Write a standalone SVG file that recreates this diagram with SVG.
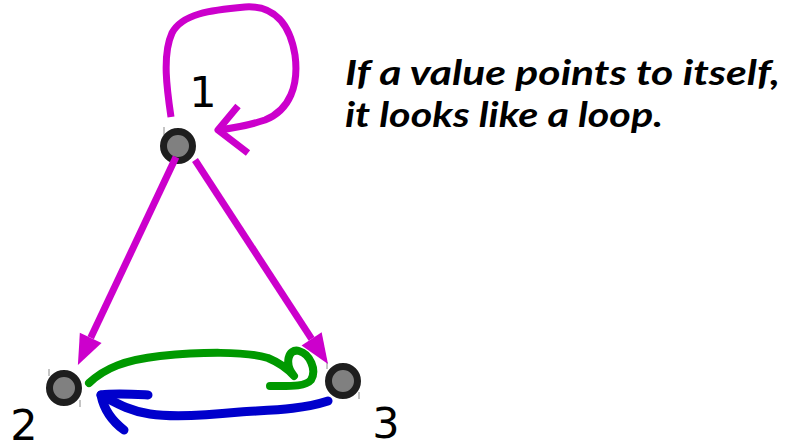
<svg xmlns="http://www.w3.org/2000/svg" width="785" height="446" viewBox="0 0 785 446">
  <style>
    .node circle { fill: #808080; stroke: #1e1e1e; stroke-width: 7; }
    .tick { stroke: #8a8a8a; stroke-width: 1; }
    .num { font-family: "DejaVu Sans", "Liberation Sans", sans-serif; font-size: 43px; fill: #000; text-anchor: middle; }
    .note { font-family: Lato, "Open Sans", sans-serif; font-size: 34px; font-weight: bold; font-style: italic; fill: #000; }
    .mag { fill: none; stroke: #cc00cc; stroke-width: 7; stroke-linejoin: round; }
    .green { fill: none; stroke: #009900; stroke-width: 8; stroke-linecap: round; stroke-linejoin: round; }
    .blue { fill: none; stroke: #0000cc; stroke-width: 9; stroke-linecap: round; stroke-linejoin: round; }
  </style>
  <defs>
    <marker id="arrow" markerUnits="userSpaceOnUse" markerWidth="30" markerHeight="24" refX="0" refY="12" orient="auto" overflow="visible">
      <path d="M0,0 L30,12 L0,24 Z" fill="#cc00cc"/>
    </marker>
  </defs>
  <rect width="785" height="446" fill="#ffffff"/>

  <g id="node1" class="node">
    <line class="tick" x1="164" y1="127" x2="164" y2="135"/>
    <circle cx="178" cy="146" r="14.5"/>
    <text class="num" x="203" y="107">1</text>
  </g>
  <g id="node2" class="node">
    <line class="tick" x1="49" y1="369" x2="49" y2="376"/>
    <line class="tick" x1="80" y1="400" x2="80" y2="407"/>
    <circle cx="64" cy="388" r="14.5"/>
    <text class="num" x="24" y="440">2</text>
  </g>
  <g id="node3" class="node">
    <line class="tick" x1="327" y1="362" x2="327" y2="369"/>
    <line class="tick" x1="359" y1="392" x2="359" y2="399"/>
    <circle cx="343" cy="381" r="14.5"/>
    <text class="num" x="386" y="438">3</text>
  </g>

  <g id="connectors">
    <path class="mag" d="M176,157 L90.7,337.8" marker-end="url(#arrow)"/>
    <path class="mag" d="M195,160 L311.6,338.9" marker-end="url(#arrow)"/>
    <path class="mag" d="M171,117 C167,90 162,55 172,33 C182,14 210,10 245,7 C275,5 290,25 295,55 C299,85 290,110 265,120 C250,125 235,128 218,130"/>
    <path class="mag" d="M238,106 L218,130 L248,153"/>
    <path class="green" d="M89,383 C105,368 125,360 160,356 C200,352 245,351 268,358 C280,363 288,369 294,376 C284,364 288,348 299,351 C310,354 317,370 311,380 C305,387 290,386 270,386"/>
    <path class="blue" d="M328,401 C300,410 270,410 240,412 C200,416 170,417 150,414 C130,411 118,404 101,395"/>
    <path class="blue" d="M148,395 C130,394 115,393 101,395 C104,410 112,421 124,430"/>
  </g>

  <g id="caption">
    <text class="note" x="345" y="85" textLength="435" lengthAdjust="spacingAndGlyphs">If a value points to itself,</text>
    <text class="note" x="345" y="127" textLength="318" lengthAdjust="spacingAndGlyphs">it looks like a loop.</text>
  </g>
</svg>
